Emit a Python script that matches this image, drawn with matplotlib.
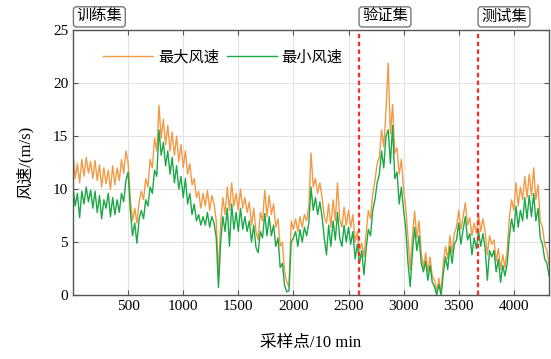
# -*- coding: utf-8 -*-
# wind speed max/min series with train / validation / test split
import numpy as np
import matplotlib.pyplot as plt
from matplotlib.transforms import blended_transform_factory

plt.rcParams['font.family'] = ['Liberation Serif', 'Noto Sans CJK SC']
plt.rcParams['axes.unicode_minus'] = False

# %% data (one value every 20 samples)
step = 20
n_total = 4320
split_points = [2592, 3672]
split_names = ['训练集', '验证集', '测试集']
series_names = ['最大风速', '最小风速']

max_speed = [
    13.5, 11.0, 12.4, 10.6, 12.8, 11.2, 13.0, 11.5, 12.6, 11.0,
    12.7, 10.8, 12.3, 10.2, 12.0, 10.5, 11.8, 10.0, 12.2, 10.4,
    12.0, 10.8, 12.8, 11.5, 13.6, 12.5, 9.0, 7.0, 8.2, 6.8,
    8.8, 9.8, 9.0, 11.0, 10.2, 12.8, 12.0, 14.8, 13.6, 17.9,
    14.8, 16.6, 14.2, 16.0, 13.6, 15.4, 13.2, 15.0, 12.6, 14.2,
    12.0, 13.6, 11.4, 12.4, 10.4, 11.0, 9.2, 9.8, 8.2, 9.6,
    8.4, 9.9, 8.0, 9.4, 8.6, 7.0, 1.9, 6.8, 9.2, 7.6,
    10.2, 8.0, 10.6, 8.4, 9.6, 8.0, 10.0, 8.2, 9.2, 7.8,
    8.8, 6.6, 8.2, 6.0, 5.2, 7.8, 7.0, 9.9, 7.4, 9.4,
    7.6, 8.6, 6.4, 7.2, 4.6, 5.0, 2.2, 1.2, 0.8, 7.0,
    6.2, 7.2, 6.0, 7.4, 6.4, 7.6, 7.0, 8.4, 13.4, 10.2,
    11.0, 9.6, 10.6, 9.2, 7.4, 6.8, 8.6, 6.4, 9.0, 7.0,
    10.6, 7.2, 6.4, 8.3, 6.6, 8.0, 6.4, 7.6, 5.0, 6.0,
    4.2, 4.9, 3.6, 5.8, 8.0, 7.2, 9.6, 10.8, 12.4, 13.0,
    15.6, 14.0, 17.4, 21.9, 15.2, 18.0, 13.4, 13.9, 11.4, 12.8,
    10.0, 8.2, 5.4, 2.4, 5.6, 7.9, 5.4, 7.0, 4.0, 2.6,
    4.0, 2.2, 3.6, 1.8, 1.4, 0.3, 1.6, 0.2, 3.0, 4.6,
    3.4, 5.6, 4.0, 5.8, 6.4, 8.0, 6.2, 7.4, 8.7, 6.6,
    7.3, 5.6, 6.8, 5.8, 7.6, 6.0, 7.2, 6.0, 3.8, 5.6,
    4.8, 5.2, 3.2, 4.4, 2.4, 3.8, 2.6, 4.2, 7.4, 9.0,
    8.0, 10.6, 8.4, 10.2, 9.0, 11.2, 9.2, 11.4, 9.4, 12.0,
    9.0, 10.4, 7.0, 6.4, 4.8, 4.2, 2.8,
]

min_speed = [
    10.2, 8.4, 9.6, 7.3, 9.8, 8.6, 10.2, 8.8, 9.9, 8.2,
    9.8, 7.8, 9.4, 7.2, 9.0, 8.2, 9.6, 7.4, 9.2, 7.6,
    9.0, 7.8, 9.6, 8.8, 10.8, 11.6, 8.0, 5.6, 6.8, 4.9,
    7.2, 8.0, 7.2, 9.0, 8.4, 10.2, 9.6, 11.8, 11.2, 15.6,
    13.2, 14.4, 12.2, 13.6, 11.4, 13.0, 10.6, 12.2, 10.0, 11.2,
    9.2, 11.0, 8.6, 9.6, 7.6, 8.6, 7.0, 7.6, 6.6, 7.4,
    6.6, 7.8, 6.4, 7.4, 6.8, 5.4, 0.7, 5.0, 7.4, 6.0,
    8.2, 4.6, 8.6, 6.2, 7.8, 6.0, 8.2, 6.2, 7.4, 6.0,
    7.0, 5.0, 6.6, 4.5, 4.0, 6.0, 5.4, 7.7, 5.6, 7.4,
    5.6, 6.6, 4.6, 5.4, 2.6, 3.0, 0.9, 0.3, 0.4, 5.0,
    5.4, 6.0, 4.6, 6.2, 5.0, 6.4, 5.6, 6.8, 10.2, 8.0,
    9.2, 7.6, 8.8, 7.4, 5.4, 3.8, 6.6, 4.6, 7.0, 5.2,
    7.8, 5.4, 4.6, 6.6, 5.0, 6.4, 4.8, 6.0, 3.4, 4.8,
    3.0, 4.2, 1.9, 4.4, 6.2, 5.6, 8.0, 9.0, 10.6, 11.4,
    13.6, 12.0, 15.0, 15.6, 12.4, 16.0, 11.0, 11.6, 8.6, 10.2,
    8.0, 6.2, 3.0, 0.8, 4.0, 6.4, 4.2, 5.6, 3.0, 2.2,
    3.2, 1.4, 2.8, 1.2, 0.8, 0.0, 1.0, 0.0, 2.0, 3.6,
    2.4, 4.6, 3.0, 4.8, 5.2, 6.8, 4.8, 6.2, 7.4, 5.2,
    5.8, 3.8, 5.4, 4.4, 6.0, 4.6, 5.8, 4.4, 1.4, 4.2,
    3.6, 4.2, 2.2, 3.4, 1.2, 2.8, 1.8, 3.0, 5.6, 7.2,
    6.0, 8.4, 6.4, 8.0, 7.0, 9.2, 7.2, 9.4, 7.4, 9.6,
    7.0, 8.2, 5.4, 4.8, 3.4, 3.0, 1.8,
]

samples = np.arange(len(max_speed)) * step

# %% plot
fig = plt.figure(figsize=(5.51, 3.59), dpi=100)
ax = fig.add_axes([0.1325, 0.178, 0.864, 0.738])

ax.plot(samples, max_speed, color='#F29A45', lw=1.0, label=series_names[0])
ax.plot(samples, min_speed, color='#1CA846', lw=1.0, label=series_names[1])

for sp in split_points:
    ax.axvline(sp, color='#FF2A2A', lw=1.6, ls=(0, (2, 1.5)), zorder=5)

# set labels above the axes
trans = blended_transform_factory(ax.transData, ax.transAxes)
for xpos, name in zip([0] + split_points, split_names):
    ax.annotate(name, xy=(xpos, 1.0), xycoords=trans, xytext=(2.5, 4.5),
                textcoords='offset points', ha='left', va='bottom', fontsize=11,
                bbox=dict(boxstyle='round,pad=0.2', fc='white', ec='#777777', lw=1.0),
                annotation_clip=False)

ax.set_xlim(0, n_total)
ax.set_ylim(0, 25)
ax.set_xticks(range(500, 4001, 500))
ax.set_yticks(range(0, 26, 5))
ax.tick_params(direction='in', top=True, right=True, labelsize=11, length=3.5,
               color='#555555')
ax.grid(True, color='#E3E3E3', lw=0.8)
ax.set_axisbelow(True)
for s in ax.spines.values():
    s.set_color('#555555')
    s.set_linewidth(1.0)

ax.set_xlabel('采样点/10 min', fontsize=12, labelpad=16)
ax.set_ylabel('风速/(m/s)', fontsize=12, labelpad=14)

ax.legend(loc='center left', bbox_to_anchor=(0.063, 0.898), ncol=2, frameon=False,
          fontsize=11, handlelength=3.3, handletextpad=0.3, columnspacing=0.5,
          borderpad=0, borderaxespad=0)

fig.savefig('out.png', dpi=100)
